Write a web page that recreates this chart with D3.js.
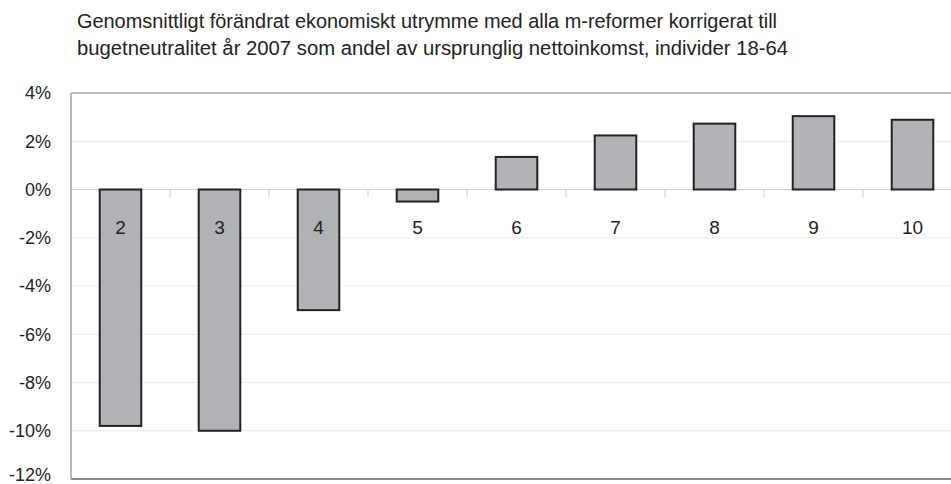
<!DOCTYPE html>
<html lang="sv">
<head>
    <meta charset="UTF-8">
    <title>Förändrat ekonomiskt utrymme</title>
    <script src="https://d3js.org/d3.v7.min.js"></script>
    <style>
        body { margin: 0; background: #fff; }
        svg text { font-family: "Liberation Sans Narrow", "Arial Narrow", "Liberation Sans", Arial, sans-serif; fill: #222; }
    </style>
</head>
<body>
    <svg width="951" height="484"></svg>

    <script>
        // Data
        const deciles = ["2", "3", "4", "5", "6", "7", "8", "9", "10"];
        const values = [-9.8, -10.0, -5.0, -0.5, 1.35, 2.24, 2.73, 3.04, 2.89];
        const yTicks = [4, 2, 0, -2, -4, -6, -8, -10, -12];
        const titleLines = [
            "Genomsnittligt förändrat ekonomiskt utrymme med alla m-reformer korrigerat till",
            "bugetneutralitet år 2007 som andel av ursprunglig nettoinkomst, individer 18-64"
        ];

        const svg = d3.select("svg");
        const plotLeft = 71, plotRight = 962, plotTop = 93, plotBottom = 479;

        const x = d3.scaleBand()
            .domain(deciles)
            .range([plotLeft, plotRight])
            .paddingInner(0.58)
            .paddingOuter(0.29);

        const y = d3.scaleLinear()
            .domain([-12, 4])
            .range([plotBottom, plotTop]);

        // Title
        const titleWidths = [700, 711];
        svg.append("g").selectAll("text")
            .data(titleLines)
            .enter().append("text")
            .attr("x", 77)
            .attr("y", (d, i) => 28 + i * 27)
            .attr("font-size", 20)
            .attr("textLength", (d, i) => titleWidths[i])
            .attr("lengthAdjust", "spacingAndGlyphs")
            .text(d => d);

        // Gridlines
        svg.append("g")
            .selectAll("line")
            .data(yTicks.filter(d => d !== 0 && d !== 4 && d !== -12))
            .enter().append("line")
            .attr("x1", plotLeft).attr("x2", plotRight)
            .attr("y1", d => y(d)).attr("y2", d => y(d))
            .attr("stroke", "#ececec")
            .attr("stroke-width", 1);

        // Y axis labels
        const yAxis = d3.axisLeft(y)
            .tickValues(yTicks)
            .tickSize(0)
            .tickPadding(20)
            .tickFormat(d => d + "%");
        const yg = svg.append("g")
            .attr("transform", `translate(${plotLeft},0)`)
            .call(yAxis);
        yg.select(".domain").remove();
        yg.selectAll("text")
            .attr("font-size", 18)
            .attr("font-family", null)
            .attr("fill", "#222");
        // last label sits on the bottom edge, nudge it up so it stays inside
        yg.selectAll(".tick").filter(d => d === -12).select("text").attr("dy", "0.1em");

        // Zero line with category ticks
        const step = x.step();
        const boundaries = deciles.slice(1).map(d => x(d) - step * x.paddingInner() / 2);
        svg.append("line")
            .attr("x1", plotLeft).attr("x2", plotRight)
            .attr("y1", y(0)).attr("y2", y(0))
            .attr("stroke", "#cfcfcf")
            .attr("stroke-width", 1.2);
        svg.append("g").selectAll("line")
            .data(boundaries)
            .enter().append("line")
            .attr("x1", d => d).attr("x2", d => d)
            .attr("y1", y(0)).attr("y2", y(0) + 8)
            .attr("stroke", "#cfcfcf")
            .attr("stroke-width", 1);

        // Frame
        svg.append("line")
            .attr("x1", plotLeft).attr("x2", plotRight)
            .attr("y1", plotTop).attr("y2", plotTop)
            .attr("stroke", "#a8a8a8").attr("stroke-width", 1.5);
        svg.append("line")
            .attr("x1", plotLeft).attr("x2", plotRight)
            .attr("y1", plotBottom).attr("y2", plotBottom)
            .attr("stroke", "#8a8a8a").attr("stroke-width", 2);
        svg.append("line")
            .attr("x1", plotLeft).attr("x2", plotLeft)
            .attr("y1", plotTop).attr("y2", plotBottom)
            .attr("stroke", "#a0a0a0").attr("stroke-width", 1.5);

        // Bars
        svg.append("g").selectAll("rect")
            .data(values)
            .enter().append("rect")
            .attr("x", (d, i) => x(deciles[i]))
            .attr("width", x.bandwidth())
            .attr("y", d => y(Math.max(0, d)))
            .attr("height", d => Math.abs(y(d) - y(0)))
            .attr("fill", "#b1b2b5")
            .attr("stroke", "#222")
            .attr("stroke-width", 2);

        // Category labels
        svg.append("g").selectAll("text")
            .data(deciles)
            .enter().append("text")
            .attr("x", d => x(d) + x.bandwidth() / 2)
            .attr("y", 234)
            .attr("text-anchor", "middle")
            .attr("font-size", 19)
            .text(d => d);
    </script>
</body>
</html>
